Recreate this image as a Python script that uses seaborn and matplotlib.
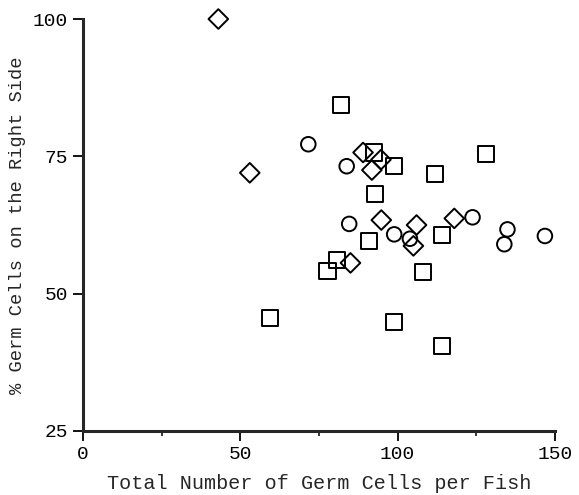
import pandas as pd
import matplotlib
matplotlib.use("Agg")
import matplotlib.pyplot as plt
import seaborn as sns

# values
diamond_x = [43, 53, 89, 94.7, 91.8, 94.8, 106, 105, 118, 85]
diamond_y = [100, 72, 75.7, 74.4, 72.5, 63.4, 62.5, 58.7, 63.7, 55.6]

square_x = [82, 92.5, 98.8, 128, 112, 92.7, 90.9, 114, 80.8, 77.7, 108, 98.9, 114.2, 59.4]
square_y = [84.3, 75.7, 73.2, 75.4, 71.8, 68.1, 59.6, 60.7, 56.1, 54.2, 53.9, 44.8, 40.4, 45.5]

circle_x = [71.6, 83.8, 84.6, 98.9, 103.9, 123.8, 134.9, 133.9, 146.8]
circle_y = [77.2, 73.2, 62.7, 60.8, 60, 63.9, 61.7, 59, 60.5]

sns.set_style("ticks")
plt.rcParams['font.family'] = ['Liberation Mono', 'DejaVu Sans Mono']

fig = plt.figure(figsize=(5.79, 4.95), dpi=100)
ax = fig.add_axes([0.1434, 0.1293, 0.8151, 0.8323])

groups = [
    (diamond_x, diamond_y, 'D', 100),
    (square_x, square_y, 's', 135),
    (circle_x, circle_y, 'o', 110),
]
for xs, ys, mk, size in groups:
    df = pd.DataFrame({'x': xs, 'y': ys})
    sns.scatterplot(data=df, x='x', y='y', marker=mk, s=size, ax=ax,
                    facecolor='none', edgecolor='black', linewidth=1.4,
                    clip_on=False)

ax.set_xlim(0, 150)
ax.set_ylim(25, 100)
ax.set_xticks([0, 50, 100, 150])
ax.set_xticks([25, 75, 125], minor=True)
ax.set_yticks([25, 50, 75, 100])

sns.despine(ax=ax)
for side in ['left', 'bottom']:
    ax.spines[side].set_linewidth(2.2)
ax.tick_params(axis='both', which='major', direction='out', length=7.5, width=1.3,
               labelsize=14, colors='black')
ax.tick_params(axis='x', which='minor', direction='out', length=3.5, width=1.3)

ax.set_xlabel('Total Number of Germ Cells per Fish', fontsize=14.5, labelpad=8)
ax.set_ylabel('% Germ Cells on the Right Side', fontsize=13.5, labelpad=5)

fig.savefig('out.png', dpi=100)
